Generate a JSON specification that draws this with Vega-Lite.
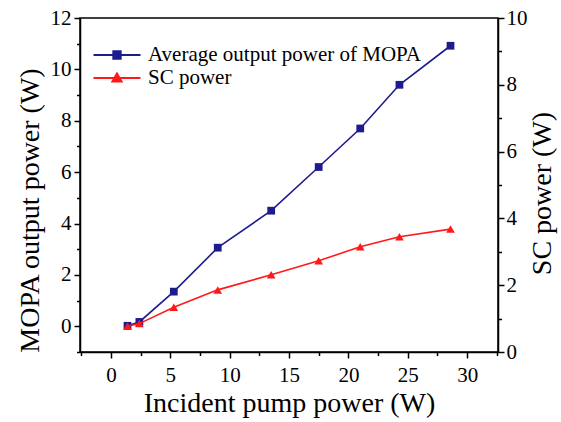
{
  "$schema": "https://vega.github.io/schema/vega-lite/v6.json",
  "width": 418,
  "height": 334,
  "autosize": "none",
  "padding": {"left": 80, "top": 18, "right": 63, "bottom": 70},
  "background": "white",
  "config": {
    "font": "Liberation Serif",
    "view": {"stroke": "black", "strokeWidth": 1.5},
    "axis": {
      "grid": false,
      "domainColor": "black",
      "domainWidth": 1.5,
      "tickColor": "black",
      "tickWidth": 1.5,
      "labelFont": "Liberation Serif",
      "labelFontSize": 21,
      "labelColor": "black",
      "titleFont": "Liberation Serif",
      "titleFontSize": 28,
      "titleFontWeight": "normal",
      "titleColor": "black"
    }
  },
  "datasets": {
    "main": [
      {"x": 1.4, "mopa": 0.02, "sc": 0.77},
      {"x": 2.4, "mopa": 0.17, "sc": 0.85},
      {"x": 5.3, "mopa": 1.35, "sc": 1.34},
      {"x": 9.0, "mopa": 3.06, "sc": 1.86},
      {"x": 13.5, "mopa": 4.5, "sc": 2.31},
      {"x": 17.5, "mopa": 6.2, "sc": 2.73},
      {"x": 21.0, "mopa": 7.7, "sc": 3.15},
      {"x": 24.3, "mopa": 9.4, "sc": 3.45},
      {"x": 28.6, "mopa": 10.92, "sc": 3.68}
    ],
    "legend": [
      {"label": "Average output power of MOPA", "x": 1.4, "v": 0},
      {"label": "SC power", "x": 1.4, "v": 0}
    ]
  },
  "encoding": {
    "x": {
      "field": "x", "type": "quantitative",
      "scale": {"domain": [-2.6, 32.6], "nice": false, "zero": false},
      "axis": {
        "title": "Incident pump power (W)",
        "values": [-2.5, 0, 2.5, 5, 7.5, 10, 12.5, 15, 17.5, 20, 22.5, 25, 27.5, 30, 32.5],
        "labelExpr": "datum.value % 5 === 0 ? datum.label : ''",
        "tickSize": {"condition": {"test": "datum.value % 5 === 0", "value": 6}, "value": 3.5},
        "labelPadding": 6,
        "titlePadding": 4
      }
    }
  },
  "layer": [
    {
      "data": {"name": "main"},
      "encoding": {
        "y": {
          "field": "mopa", "type": "quantitative",
          "scale": {"domain": [-1, 12], "nice": false, "zero": false},
          "axis": {
            "title": "MOPA output power (W)",
            "values": [-1, 0, 1, 2, 3, 4, 5, 6, 7, 8, 9, 10, 11, 12],
            "labelExpr": "datum.value % 2 === 0 ? datum.label : ''",
            "tickSize": {"condition": {"test": "datum.value % 2 === 0", "value": 6}, "value": 3.5},
            "labelPadding": 3,
            "titlePadding": 6,
            "titleY": 192
          }
        }
      },
      "layer": [
        {"mark": {"type": "line", "color": "#1c1c8e", "strokeWidth": 1.6}},
        {"mark": {"type": "point", "shape": "square", "filled": true, "opacity": 1, "color": "#1c1c8e", "size": 60}}
      ]
    },
    {
      "data": {"name": "main"},
      "encoding": {
        "y": {
          "field": "sc", "type": "quantitative",
          "scale": {"domain": [0, 10], "nice": false},
          "axis": {
            "orient": "right",
            "title": "SC power (W)",
            "titleAngle": -90,
            "values": [0, 1, 2, 3, 4, 5, 6, 7, 8, 9, 10],
            "labelExpr": "datum.value % 2 === 0 ? datum.label : ''",
            "tickSize": {"condition": {"test": "datum.value % 2 === 0", "value": 6}, "value": 3.5},
            "labelPadding": 2,
            "titlePadding": 29,
            "titleY": 175
          }
        }
      },
      "layer": [
        {"mark": {"type": "line", "color": "#ff1a1a", "strokeWidth": 1.6}},
        {"mark": {"type": "point", "shape": "triangle-up", "filled": true, "opacity": 1, "color": "#ff1a1a", "size": 75}}
      ]
    },
    {
      "data": {"name": "legend"},
      "mark": {"type": "point", "filled": false, "opacity": 0, "strokeWidth": 1.8},
      "encoding": {
        "y": {"field": "v", "type": "quantitative", "scale": {"domain": [-1, 12], "nice": false, "zero": false}, "axis": null},
        "stroke": {
          "field": "label", "type": "nominal",
          "scale": {"domain": ["Average output power of MOPA", "SC power"], "range": ["#1c1c8e", "#ff1a1a"]},
          "legend": {
            "title": null,
            "orient": "none",
            "legendX": 24,
            "legendY": 24,
            "padding": 0,
            "labelFont": "Liberation Serif",
            "labelFontSize": 21,
            "labelColor": "black",
            "labelOffset": 18,
            "symbolOpacity": 1,
            "symbolStrokeWidth": 1.8,
            "symbolSize": 552,
            "rowPadding": 0,
            "labelLimit": 400
          }
        },
        "shape": {
          "field": "label", "type": "nominal",
          "scale": {
            "domain": ["Average output power of MOPA", "SC power"],
            "range": [
              "M-2,0H2M-0.32,-0.32H0.32V0.32H-0.32ZM-0.32,-0.2H0.32M-0.32,-0.08H0.32M-0.32,0.08H0.32M-0.32,0.2H0.32",
              "M-2,0H2M-0.4,0.3L0,-0.4L0.4,0.3ZM-0.068,-0.28H0.068M-0.138,-0.16H0.138M-0.206,-0.04H0.206M-0.274,0.08H0.274M-0.342,0.2H0.342"
            ]
          }
        }
      }
    }
  ],
  "resolve": {"scale": {"y": "independent"}}
}
